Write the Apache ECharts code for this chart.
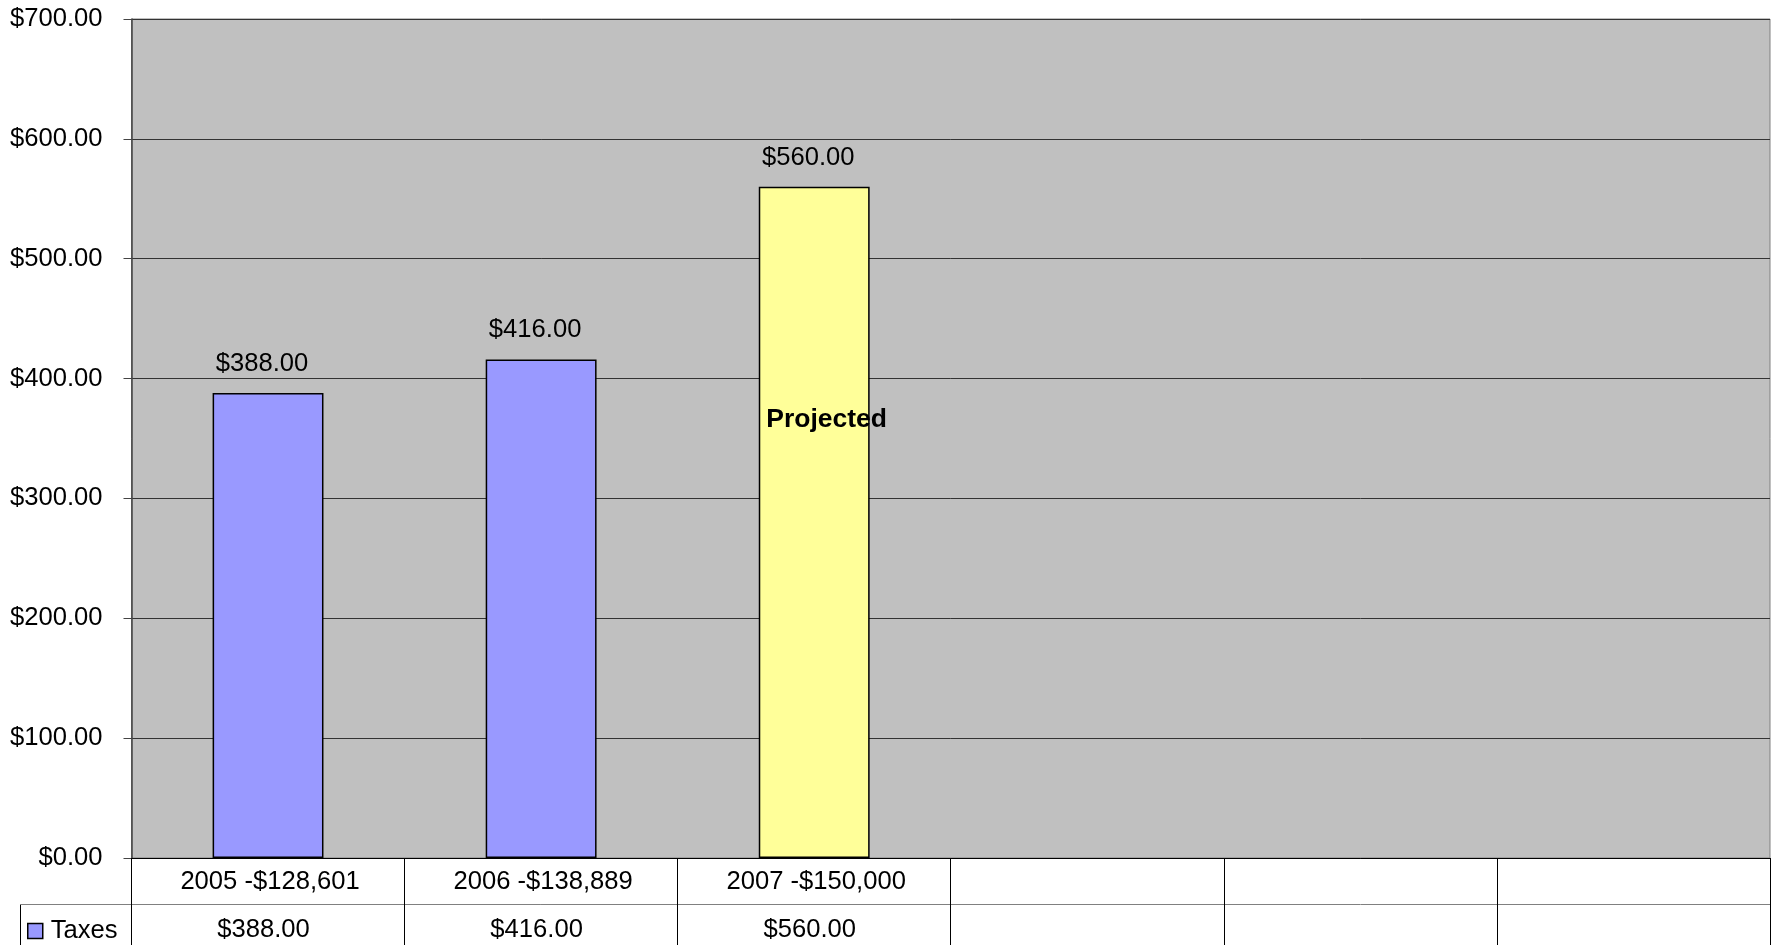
<!DOCTYPE html>
<html>
<head>
<meta charset="utf-8">
<script src="https://cdn.jsdelivr.net/npm/echarts@6/dist/echarts.min.js"></script>
<style>
  html, body { margin: 0; padding: 0; background: #fff; }
  #chart { width: 1777px; height: 945px; }
</style>
</head>
<body>
<div id="chart"></div>
<script>
// data
const categories = ['2005 -$128,601', '2006 -$138,889', '2007 -$150,000', '', '', '']
const taxes = [388, 416, 560]
const projectedIndex = 2
const yTicks = [0, 100, 200, 300, 400, 500, 600, 700]
const note = { text: 'Projected', category: 2, value: 366 }

const money = v => '$' + Number(v).toFixed(2)
const FONT = "'Liberation Sans', Arial, sans-serif"
const FS = 25.6

// values row of the data table
const tableRow = categories.map((c, i) => i < taxes.length ? money(taxes[i]) : '')

const chart = echarts.init(document.getElementById('chart'))

chart.setOption({
  animation: false,
  textStyle: { fontFamily: FONT },
  grid: [
    { left: 131.5, right: 7, top: 19, bottom: 87, show: true,
      backgroundColor: '#c0c0c0', borderColor: '#808080', borderWidth: 1 },
    { left: 131.5, right: 7, top: 904, bottom: 0 }
  ],
  legend: {
    left: 27, top: 918, padding: 0,
    itemWidth: 15, itemHeight: 15,
    icon: 'rect',
    itemStyle: { borderColor: '#000', borderWidth: 1.5 },
    textStyle: { fontSize: FS, color: '#000', fontFamily: FONT, padding: [0, 0, 0, 3] },
    data: ['Taxes']
  },
  xAxis: [
    {
      type: 'category', gridIndex: 0, data: categories,
      axisLine: { onZero: false, lineStyle: { color: '#000', width: 1 } },
      axisTick: { show: true, length: 46, lineStyle: { color: '#000' } },
      axisLabel: { fontSize: FS, color: '#000', margin: 11, interval: 0, padding: [0, 0, 0, 4] }
    },
    {
      type: 'category', gridIndex: 1, data: tableRow, position: 'top',
      axisLine: { onZero: false, lineStyle: { color: '#808080', width: 1 } },
      axisTick: { show: true, inside: true, length: 60, lineStyle: { color: '#000' } },
      axisLabel: { inside: true, fontSize: FS, color: '#000', margin: 13, interval: 0, padding: [0, 9, 0, 0] }
    }
  ],
  yAxis: [
    {
      type: 'value', gridIndex: 0, min: yTicks[0], max: yTicks[yTicks.length - 1],
      interval: yTicks[1] - yTicks[0],
      axisLine: { show: true, lineStyle: { color: '#444', width: 1.5 } },
      axisTick: { show: true, length: 8, lineStyle: { color: '#444' } },
      axisLabel: { fontSize: FS, color: '#000', margin: 29, formatter: money },
      splitLine: { lineStyle: { color: '#333', width: 1 } }
    },
    { type: 'value', gridIndex: 1, show: false }
  ],
  series: [
    {
      name: 'Taxes', type: 'bar', xAxisIndex: 0, yAxisIndex: 0,
      barWidth: '40.6%',
      itemStyle: { color: '#9999ff', borderColor: '#000', borderWidth: 1.5 },
      label: {
        show: true, position: 'top', distance: 16, offset: [-6, 0],
        fontSize: FS, color: '#000', fontFamily: FONT,
        formatter: p => money(p.value)
      },
      data: taxes.map((v, i) => i === projectedIndex
        ? { value: v, itemStyle: { color: '#ffff99', borderColor: '#000', borderWidth: 1.5 } }
        : v),
      markPoint: {
        symbol: 'rect',
        symbolSize: 1,
        silent: true,
        itemStyle: { color: 'rgba(0,0,0,0)' },
        label: {
          show: true, formatter: note.text, position: 'inside',
          align: 'left', offset: [-48, 0],
          fontSize: 26.5, fontWeight: 'bold', color: '#000', fontFamily: FONT
        },
        data: [{ coord: [note.category, note.value] }]
      }
    }
  ],
  graphic: [
    { type: 'line', shape: { x1: 20.5, y1: 904, x2: 20.5, y2: 945 }, style: { stroke: '#000', lineWidth: 1 } },
    { type: 'line', shape: { x1: 20, y1: 904.5, x2: 131.5, y2: 904.5 }, style: { stroke: '#808080', lineWidth: 1 } }
  ]
})
</script>
</body>
</html>
